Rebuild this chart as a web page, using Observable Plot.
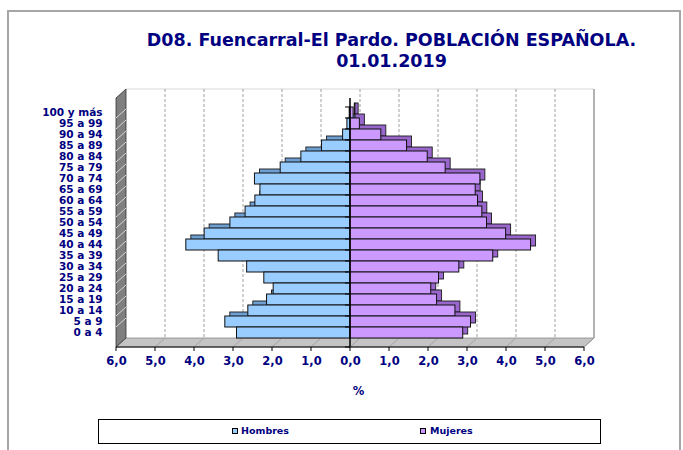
<!DOCTYPE html>
<html><head><meta charset="utf-8">
<script src="https://cdn.jsdelivr.net/npm/d3@7"></script>
<script src="https://cdn.jsdelivr.net/npm/@observablehq/plot@0.6"></script>
<style>
body{margin:0;background:#fff;}
#wrap{position:relative;width:683px;height:450px;overflow:hidden;font-family:"DejaVu Sans",sans-serif;font-weight:bold;color:#000080;}
#frame{position:absolute;left:7px;top:10px;width:670px;height:460px;border:2px solid #a6a6a6;border-bottom:none;}
#title{position:absolute;left:100px;width:583px;top:30px;text-align:center;font-size:17.5px;line-height:21px;}
#chart{position:absolute;left:0;top:80px;}
#legend{position:absolute;left:98px;top:419px;width:501px;height:23px;border:1px solid #000;background:#fff;}
.sw{position:absolute;top:8px;width:4px;height:4px;border:1px solid #000;}
.lt{position:absolute;top:5px;font-size:9.5px;line-height:11px;white-space:nowrap;}
</style></head>
<body>
<div id="wrap">
  <div id="frame"></div>
  <div id="title">D08. Fuencarral-El Pardo. POBLACIÓN ESPAÑOLA.<br>01.01.2019</div>
  <div id="chart"></div>
  <div id="legend"></div>
</div>
<script>
const ages = ["100 y más","95 a 99","90 a 94","85 a 89","80 a 84","75 a 79","70 a 74","65 a 69","60 a 64","55 a 59","50 a 54","45 a 49","40 a 44","35 a 39","30 a 34","25 a 29","20 a 24","15 a 19","10 a 14","5 a 9","0 a 4"];
const hombres = [0.02,0.08,0.19,0.73,1.26,1.79,2.45,2.31,2.44,2.69,3.08,3.74,4.21,3.38,2.65,2.21,1.97,2.14,2.62,3.21,2.91];
const mujeres = [0.08,0.24,0.79,1.45,1.98,2.44,3.33,3.21,3.27,3.38,3.50,3.99,4.63,3.66,2.79,2.27,2.07,2.22,2.69,3.09,2.89];
const xTicks = [-6,-5,-4,-3,-2,-1,0,1,2,3,4,5,6];
const xTickLabels = ["6,0","5,0","4,0","3,0","2,0","1,0","0,0","1,0","2,0","3,0","4,0","5,0","6,0"];
const xLabel = "%";
const seriesNames = ["Hombres","Mujeres"];
const seriesColors = ["#99CCFF","#CC99FF"];
const sideColors = ["#6d9fd2","#9966CC"];

const NAVY = "#000080";
const DEPTH = [10, -9];

const hRows = ages.map((a,i)=>({age:a, x1:0, x2:-hombres[i]}));
const mRows = ages.map((a,i)=>({age:a, x1:0, x2:mujeres[i]}));

function boundaries(y, dims){
  const B = dims.height - dims.marginBottom;
  const bs = ages.map(a => y(a));
  bs.push(B);
  return bs;
}

function walls(index, scales, values, dims){
  const x = scales.x, y = scales.y;
  const [dx, dy] = DEPTH;
  const L = x(xTicks[0]), R = x(xTicks[xTicks.length-1]);
  const T = dims.marginTop, B = dims.height - dims.marginBottom;
  const g = d3.create("svg:g");
  g.append("rect").attr("x", L+dx).attr("y", T+dy).attr("width", R-L).attr("height", B-T).attr("fill","#fff");
  g.append("line").attr("x1",L+dx).attr("y1",T+dy).attr("x2",R+dx).attr("y2",T+dy).attr("stroke","#d8d8d8");
  g.append("line").attr("x1",R+dx).attr("y1",T+dy).attr("x2",R+dx).attr("y2",B+dy).attr("stroke","#999").attr("stroke-width",1.5);
  for (const t of xTicks.slice(1,-1)) {
    g.append("line").attr("x1",x(t)+dx).attr("x2",x(t)+dx).attr("y1",T+dy).attr("y2",B+dy)
      .attr("stroke","#a0a0a0").attr("stroke-dasharray","3,2");
  }
  g.append("path").attr("d",`M${L},${B}L${R},${B}L${R+dx},${B+dy}L${L+dx},${B+dy}Z`).attr("fill","#c4c4c4").attr("stroke","#8a8a8a").attr("stroke-width",0.8);
  for (const t of xTicks) {
    g.append("line").attr("x1",x(t)).attr("y1",B).attr("x2",x(t)+dx).attr("y2",B+dy).attr("stroke","#9a9a9a").attr("stroke-width",0.8);
  }
  g.append("path").attr("d",`M${L},${T}L${L},${B}L${L+dx},${B+dy}L${L+dx},${T+dy}Z`).attr("fill","#7f7f7f").attr("stroke","#333").attr("stroke-width",0.8);
  for (const yb of boundaries(y, dims).slice(1,-1)) {
    g.append("line").attr("x1",L).attr("y1",yb).attr("x2",L+dx).attr("y2",yb+dy).attr("stroke","#d8d8d8").attr("stroke-width",1);
  }
  return g.node();
}

function axes(index, scales, values, dims){
  const x = scales.x, y = scales.y;
  const L = x(xTicks[0]), R = x(xTicks[xTicks.length-1]);
  const T = dims.marginTop, B = dims.height - dims.marginBottom;
  const z = x(0);
  const g = d3.create("svg:g").attr("stroke","#000");
  g.append("line").attr("x1",z).attr("x2",z).attr("y1",T).attr("y2",B).attr("stroke-width",1.5);
  for (const yb of boundaries(y, dims)) {
    g.append("line").attr("x1",z-5).attr("x2",z).attr("y1",yb).attr("y2",yb);
  }
  g.append("line").attr("x1",L).attr("x2",R).attr("y1",B).attr("y2",B);
  for (const t of xTicks) {
    g.append("line").attr("x1",x(t)).attr("x2",x(t)).attr("y1",B).attr("y2",B+4);
  }
  return g.node();
}

const [bdx, bdy] = [5, -4];
const chart = Plot.plot({
  width: 683,
  height: 330,
  marginTop: 18,
  marginBottom: 63,
  marginLeft: 116,
  marginRight: 99,
  style: {fontFamily: "DejaVu Sans", background: "transparent", overflow: "visible"},
  x: {domain: [xTicks[0], xTicks[xTicks.length-1]], axis: null},
  y: {domain: ages, padding: 0, axis: null},
  marks: [
    walls,
    Plot.barX(hRows, {x1:"x1", x2:"x2", y:"age", fill: sideColors[0], stroke:"#1a1a1a", strokeWidth:0.9, dx:bdx, dy:bdy}),
    Plot.barX(mRows, {x1:"x1", x2:"x2", y:"age", fill: sideColors[1], stroke:"#1a1a1a", strokeWidth:0.9, dx:bdx, dy:bdy}),
    Plot.barX(hRows, {x1:"x1", x2:"x2", y:"age", fill: seriesColors[0], stroke:"#111", strokeWidth:1}),
    Plot.barX(mRows, {x1:"x1", x2:"x2", y:"age", fill: seriesColors[1], stroke:"#111", strokeWidth:1}),
    axes,
    Plot.text(ages, {x: () => xTicks[0], y: d => d, text: d => d, dx: -14, textAnchor: "end", fontSize: 10.5, fontWeight: "bold", fill: NAVY}),
    Plot.text(xTicks, {x: d => d, text: (d,i) => xTickLabels[i], frameAnchor: "bottom", dy: 17, fontSize: 11.5, fontWeight: "bold", fill: NAVY}),
    Plot.text([xLabel], {x: () => 0, text: d => d, frameAnchor: "bottom", dy: 47, dx: 8, fontSize: 11.5, fontWeight: "bold", fill: NAVY})
  ]
});
document.getElementById("chart").appendChild(chart);

const legend = d3.select("#legend");
const swLeft = [133, 321], txLeft = [142, 331];
seriesNames.forEach((n,i) => {
  legend.append("div").attr("class","sw").style("left", swLeft[i]+"px").style("background", seriesColors[i]);
  legend.append("div").attr("class","lt").style("left", txLeft[i]+"px").text(n);
});
</script>
</body></html>
